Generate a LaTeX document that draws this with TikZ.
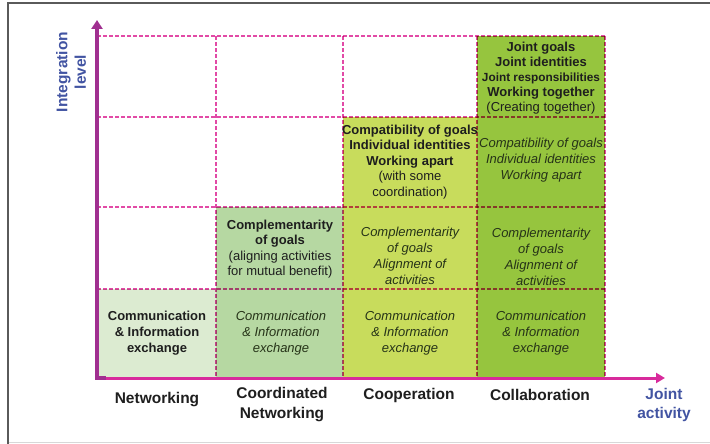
\documentclass[tikz,border=0pt]{standalone}
\usepackage{fontspec}
\setmainfont{Liberation Sans}
\usetikzlibrary{arrows.meta}

\definecolor{framegray}{HTML}{5A5A5A}
\definecolor{framelight}{HTML}{D8D8D8}
\definecolor{netw}{HTML}{DCEBD1}
\definecolor{coord}{HTML}{B6D8A2}
\definecolor{coop}{HTML}{C8DC5C}
\definecolor{collab}{HTML}{96C53E}
\definecolor{gridpink}{HTML}{E24AA6}
\definecolor{yaxiscol}{HTML}{A02F90}
\definecolor{xaxiscol}{HTML}{D82A9C}
\definecolor{labelblue}{HTML}{4254A2}
\definecolor{textdark}{HTML}{1E1E1E}
\definecolor{textgreen}{HTML}{263318}

\tikzset{
  gridline/.style={draw=gridpink, line width=1.3pt, dash pattern=on 4pt off 2pt},
  cellbold/.style={align=center, inner sep=0pt, text=textdark,
    font=\fontsize{13}{15.5}\selectfont\bfseries},
  cellplain/.style={align=center, inner sep=0pt, text=textdark,
    font=\fontsize{13}{15.5}\selectfont},
  cellital/.style={align=center, inner sep=0pt, text=textgreen,
    font=\fontsize{13}{16}\selectfont\itshape},
  collabel/.style={align=center, inner sep=0pt, text=textdark,
    font=\fontsize{15.5}{20}\selectfont\bfseries},
  axislabel/.style={align=center, inner sep=0pt, text=labelblue,
    font=\fontsize{15.5}{18.5}\selectfont\bfseries},
  yaxis/.style={draw=yaxiscol, line width=3.5pt,
    -{Triangle[length=9pt,width=11pt]}},
  xaxis/.style={draw=xaxiscol, line width=3pt,
    -{Triangle[length=9pt,width=10pt]}},
}

\begin{document}
\begin{tikzpicture}[x=1pt,y=-1pt]
\useasboundingbox (0,0) rectangle (710,444);

% outer frame
\draw[framelight, line width=1pt] (8,442) -- (710,442);
\draw[framegray, line width=1.8pt] (8,444) -- (8,3) -- (710,3);

% coloured cells of the staircase
\fill[netw]   (97,289)  rectangle (216,378);
\fill[coord]  (216,207) rectangle (343,378);
\fill[coop]   (343,117) rectangle (477,378);
\fill[collab] (477,36)  rectangle (605,378);

% dashed grid, darkened where it crosses the coloured cells
\begin{scope}[blend mode=multiply]
  \foreach \y in {36,117,207,289}
    \draw[gridline] (97,\y) -- (605,\y);
  \foreach \x in {216,343,477,605}
    \draw[gridline] (\x,36) -- (\x,378);
\end{scope}

% axes
\coordinate (origin) at (97,378);
\coordinate (ytip) at (97,20);
\coordinate (xtip) at (665,378);
\coordinate (cornerx) at (106,378);
\draw[xaxis] (origin) -- (xtip);
\draw[yaxis, arrows={-Triangle[length=9pt,width=11pt]}] (cornerx) -- (origin) -- (ytip);

% axis titles
\node[axislabel, rotate=90] (ylab) at (71,72) {Integration\\level};
\node[axislabel] (xlab) at (664,405) {Joint\\activity};

% column titles
\node[collabel] (cNet)   at (157,400) {Networking};
\node[collabel] (cCoord) at (282,405) {Coordinated\\Networking};
\node[collabel] (cCoop)  at (409,395) {Cooperation};
\node[collabel] (cColl)  at (540,395) {Collaboration};

% row 1: communication
\node[cellbold, font=\fontsize{13}{16}\selectfont\bfseries] (n1) at (157,333)
  {Communication\\\& Information\\exchange};
\node[cellital] (cn1) at (281,333) {Communication\\\& Information\\exchange};
\node[cellital] (cp1) at (410,333) {Communication\\\& Information\\exchange};
\node[cellital] (cl1) at (541,333) {Communication\\\& Information\\exchange};

% row 2: complementarity
\node[cellplain] (cn2) at (280,249)
  {\textbf{Complementarity}\\\textbf{of goals}\\(aligning activities\\for mutual benefit)};
\node[cellital] (cp2) at (410,256) {Complementarity\\of goals\\Alignment of\\activities};
\node[cellital] (cl2) at (541,257) {Complementarity\\of goals\\Alignment of\\activities};

% row 3: compatibility
\node[cellplain] (cp3) at (410,162)
  {\textbf{Compatibility of goals}\\\textbf{Individual identities}\\\textbf{Working apart}\\(with some\\coordination)};
\node[cellital] (cl3) at (541,160) {Compatibility of goals\\Individual identities\\Working apart};

% row 4: joint work
\node[cellplain, font=\fontsize{13}{15}\selectfont] (cl4) at (541,78)
  {\textbf{Joint goals}\\\textbf{Joint identities}\\{\fontsize{11.8}{15}\selectfont\bfseries Joint responsibilities}\\\textbf{Working together}\\(Creating together)};

\end{tikzpicture}
\end{document}
